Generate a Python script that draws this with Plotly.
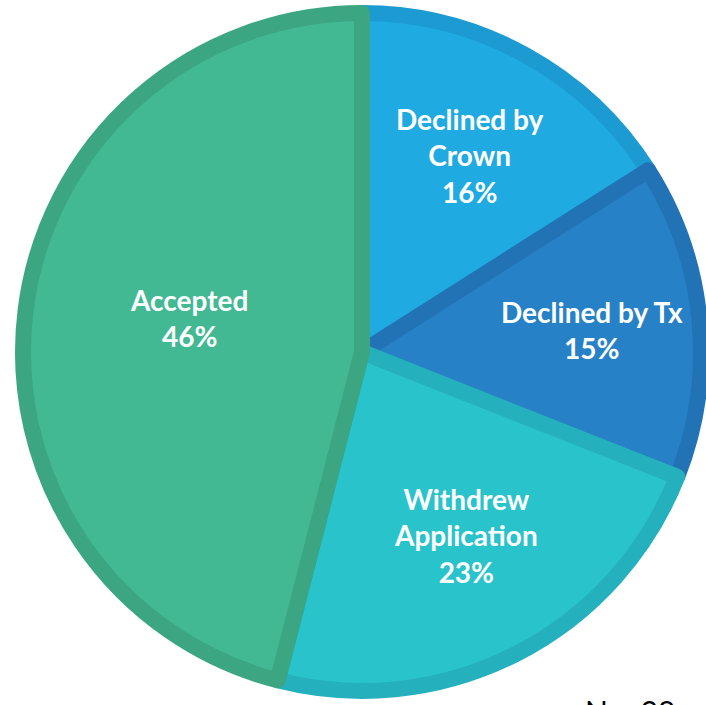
import math
import plotly.graph_objects as go

labels = ["Declined by<br>Crown", "Declined by Tx", "Withdrew<br>Application", "Accepted"]
values = [16, 15, 23, 46]
fill_colors = ["#1FAAE1", "#2781C6", "#29C3CB", "#42B993"]
edge_colors = ["#1B9BD1", "#2273B5", "#25B0BE", "#3CA682"]
note = "N = 98"

W, H = 706, 705
CX, CY, R = 362, 352, 339              # pie centre / radius in pixels
LABEL_R = [0.65, 0.67, 0.61, 0.51]     # radial placement of labels (fraction of radius)
LABEL_DA = [0.0, 0.0, -2.5, 3.8]       # small angular nudges (degrees)

fig = go.Figure(go.Pie(
    labels=labels,
    values=values,
    sort=False,
    direction="clockwise",
    rotation=0,
    marker=dict(colors=fill_colors, line=dict(color=edge_colors, width=16)),
    textinfo="none",
    hoverinfo="label+percent",
    showlegend=False,
    domain=dict(x=[(CX - R) / W, (CX + R) / W],
                y=[(H - CY - R) / H, (H - CY + R) / H]),
))

# slice labels on the bisector of each slice
total = sum(values)
cum = 0
for lab, v, f, da in zip(labels, values, LABEL_R, LABEL_DA):
    mid = (cum + v / 2) / total * 2 * math.pi + math.radians(da)
    cum += v
    px = CX + f * 345 * math.sin(mid)
    py = CY - f * 345 * math.cos(mid)
    fig.add_annotation(
        text=f"{lab}<br>{round(v / total * 100)}%",
        xref="paper", yref="paper", x=px / W, y=(H - py) / H,
        xanchor="center", yanchor="middle", showarrow=False,
        font=dict(family="Lato", size=28, color="white", weight="bold"),
    )

fig.add_annotation(
    text=note, xref="paper", yref="paper",
    x=583 / W, y=(H - 691) / H, xanchor="left", yanchor="top",
    showarrow=False, font=dict(family="Lato", size=30, color="black"),
)

fig.update_layout(
    width=W, height=H,
    margin=dict(l=0, r=0, t=0, b=0),
    paper_bgcolor="white",
    plot_bgcolor="white",
)

fig.write_html("out.html", config={"displayModeBar": False},
               post_script="document.body.style.margin='0';")
